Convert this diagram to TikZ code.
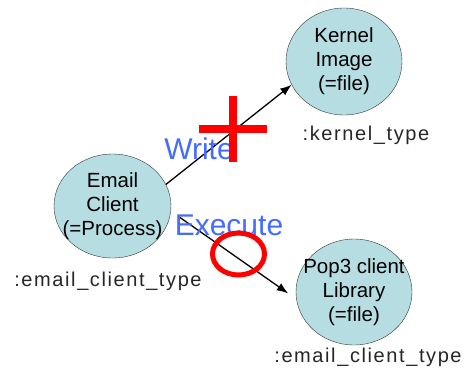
\documentclass[tikz,border=0pt]{standalone}
\usepackage{fontspec}
\setmainfont{Liberation Sans}
\newfontfamily\typefont[LetterSpace=8]{Liberation Sans}
\usetikzlibrary{arrows.meta,shapes.geometric}

\definecolor{objfill}{RGB}{182,222,226}
\definecolor{opblue}{RGB}{68,108,255}

\begin{document}
\begin{tikzpicture}[x=1pt,y=-1pt,
  every node/.style={font=\fontsize{20.5}{24}\selectfont},
  obj/.style={draw=black!80,ellipse,fill=objfill,align=center,
              inner xsep=-16pt,inner ysep=-4pt},
  tlabel/.style={font=\fontsize{20}{24}\typefont,text=black!85},
  oplabel/.style={font=\fontsize{30}{34}\selectfont,text=opblue},
  arr/.style={-{Latex[length=4mm,width=3mm]},line width=1.3pt},
  deny/.style={draw=red,line width=8pt}
]
\useasboundingbox (0,0) rectangle (470,372);

\node[obj,minimum width=117pt,minimum height=104pt] (email) at (112.5,206)
 {Email\\Client\\(=Process)};
\node[obj,minimum width=116pt,minimum height=107pt] (kernel) at (344,61.5)
 {Kernel\\Image\\(=file)};
\node[obj,minimum width=116pt,minimum height=106pt] (pop) at (354,292)
 {Pop3 client\\Library\\(=file)};

\node[tlabel] (emailT) at (108,281) {:email\_client\_type};
\node[tlabel] (kernelT) at (366,135) {:kernel\_type};
\node[tlabel] (popT) at (368,357) {:email\_client\_type};

% the two accesses
\draw[arr] (email.22) -- (kernel.204);
\draw[arr,shorten <=9pt,shorten >=10pt] (email.-5) -- (pop.187);

\node[oplabel] (write) at (199,149) {Write};
\node[oplabel] (exec) at (229,225) {Execute};

% write is denied, execute is allowed
\draw[deny] (233,96) -- (233,162);
\draw[deny] (199,129) -- (267,129);
\draw[red,line width=5pt] (238.5,254) ellipse [x radius=26pt,y radius=21pt];
\end{tikzpicture}
\end{document}
